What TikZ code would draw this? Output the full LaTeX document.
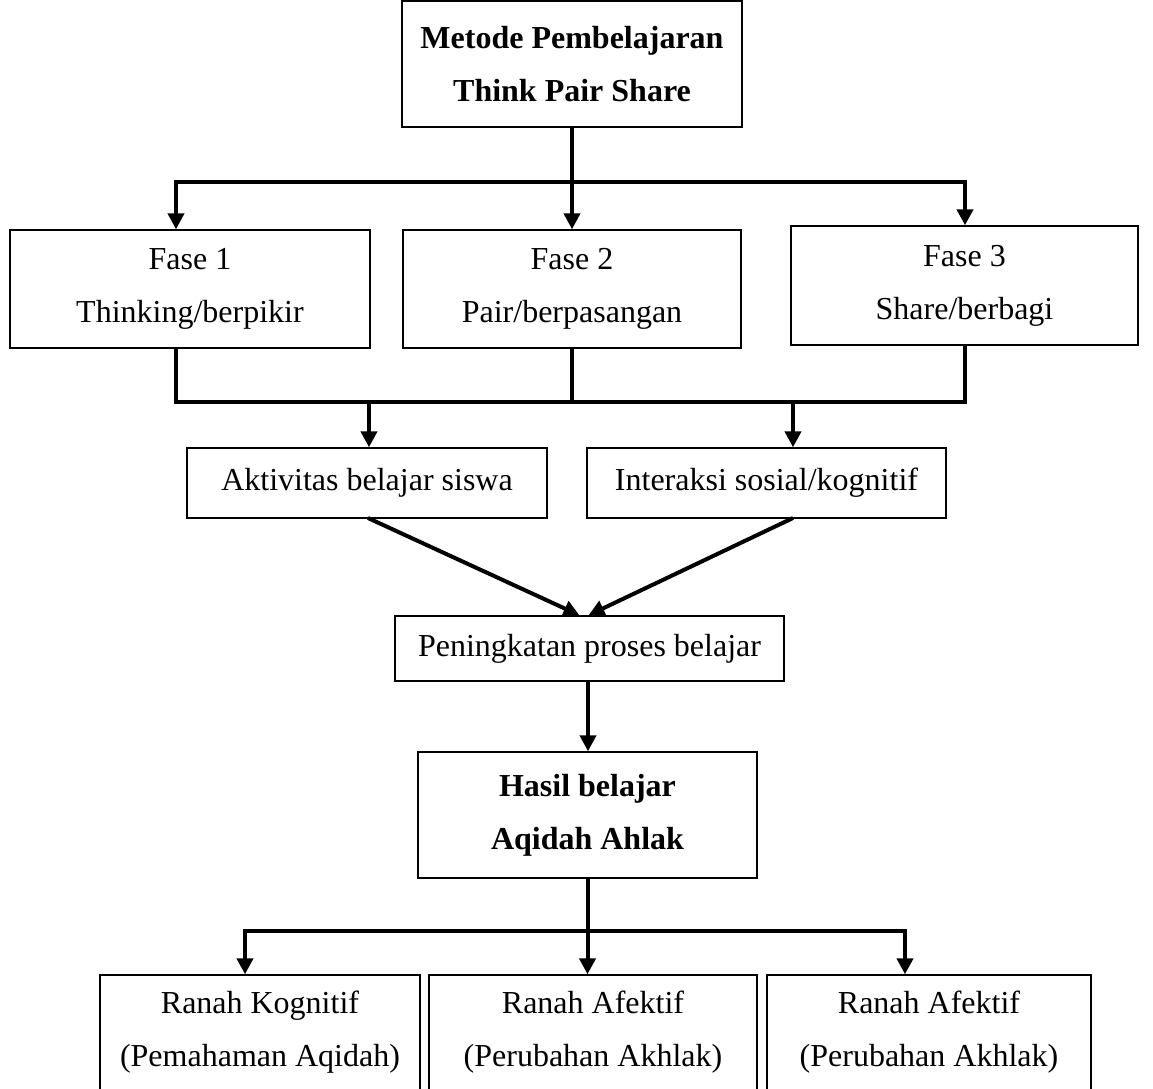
\documentclass[tikz,border=0pt]{standalone}
\usepackage{fontspec}
\setmainfont{Liberation Serif}
\usetikzlibrary{arrows.meta}
\tikzset{
  box/.style={draw, line width=1.4pt, inner sep=0pt, align=center,
    font=\fontsize{32}{53}\selectfont},
  conn/.style={line width=4pt},
  arr/.style={line width=4pt, -{Triangle[length=16pt,width=16pt]}},
}
\begin{document}
\begin{tikzpicture}[x=1pt,y=-1pt]
\useasboundingbox (0,0) rectangle (1153,1088);
% nodes
\node[box, minimum width=340pt, minimum height=126pt] (top) at (572,64)
  {\bfseries Metode Pembelajaran\\ \bfseries Think Pair Share};
\node[box, minimum width=360pt, minimum height=118pt] (f1) at (190,289)
  {Fase 1\\Thinking/berpikir};
\node[box, minimum width=338pt, minimum height=118pt] (f2) at (572,289)
  {Fase 2\\Pair/berpasangan};
\node[box, minimum width=347pt, minimum height=119pt] (f3) at (964.5,285.5)
  {Fase 3\\Share/berbagi};
\node[box, minimum width=360pt, minimum height=70pt] (akt) at (367,483)
  {Aktivitas belajar siswa};
\node[box, minimum width=359pt, minimum height=70pt] (int) at (766.5,483)
  {Interaksi sosial/kognitif};
\node[box, minimum width=389pt, minimum height=65pt] (pen) at (589.5,648.5)
  {Peningkatan proses belajar};
\node[box, minimum width=339pt, minimum height=126pt] (has) at (587.5,815)
  {\bfseries Hasil belajar\\ \bfseries Aqidah Ahlak};
\node[box, minimum width=320pt, minimum height=115pt] (r1) at (260,1032.5)
  {Ranah Kognitif\\(Pemahaman Aqidah)};
\node[box, minimum width=328pt, minimum height=115pt] (r2) at (593,1032.5)
  {Ranah Afektif\\(Perubahan Akhlak)};
\node[box, minimum width=324pt, minimum height=115pt] (r3) at (929,1032.5)
  {Ranah Afektif\\(Perubahan Akhlak)};
% branch 1
\coordinate (a1) at (176,182);
\coordinate (a2) at (572,182);
\coordinate (a3) at (965,182);
\draw[conn] (top.south) -- (a2);
\draw[conn, line cap=rect] (a1) -- (a3);
\draw[arr] (a1) -- (a1 |- f1.north);
\draw[arr] (a2) -- (a2 |- f2.north);
\draw[arr] (a3) -- (a3 |- f3.north);
% join
\coordinate (b1) at (176,402);
\coordinate (b2) at (572,402);
\coordinate (b3) at (965,402);
\coordinate (c1) at (369,402);
\coordinate (c2) at (793,402);
\draw[conn] (b1 |- f1.south) -- (b1);
\draw[conn] (b2 |- f2.south) -- (b2);
\draw[conn] (b3 |- f3.south) -- (b3);
\draw[conn, line cap=rect] (b1) -- (b3);
\draw[arr] (c1) -- (c1 |- akt.north);
\draw[arr] (c2) -- (c2 |- int.north);
% diagonals
\coordinate (d1) at (368,518);
\coordinate (d2) at (793,518);
\draw[arr] (d1) -- ([xshift=-10pt]pen.north);
\draw[arr] (d2) -- ([xshift=-1pt]pen.north);
% down
\draw[arr] ([xshift=-1.5pt]pen.south) -- ([xshift=0.5pt]has.north);
% branch 2
\coordinate (e1) at (245,931);
\coordinate (e2) at (587.5,931);
\coordinate (e3) at (905,931);
\draw[conn] (has.south) -- (e2);
\draw[conn, line cap=rect] (e1) -- (e3);
\draw[arr] (e1) -- (e1 |- r1.north);
\draw[arr] (e2) -- (e2 |- r2.north);
\draw[arr] (e3) -- (e3 |- r3.north);
\end{tikzpicture}
\end{document}
